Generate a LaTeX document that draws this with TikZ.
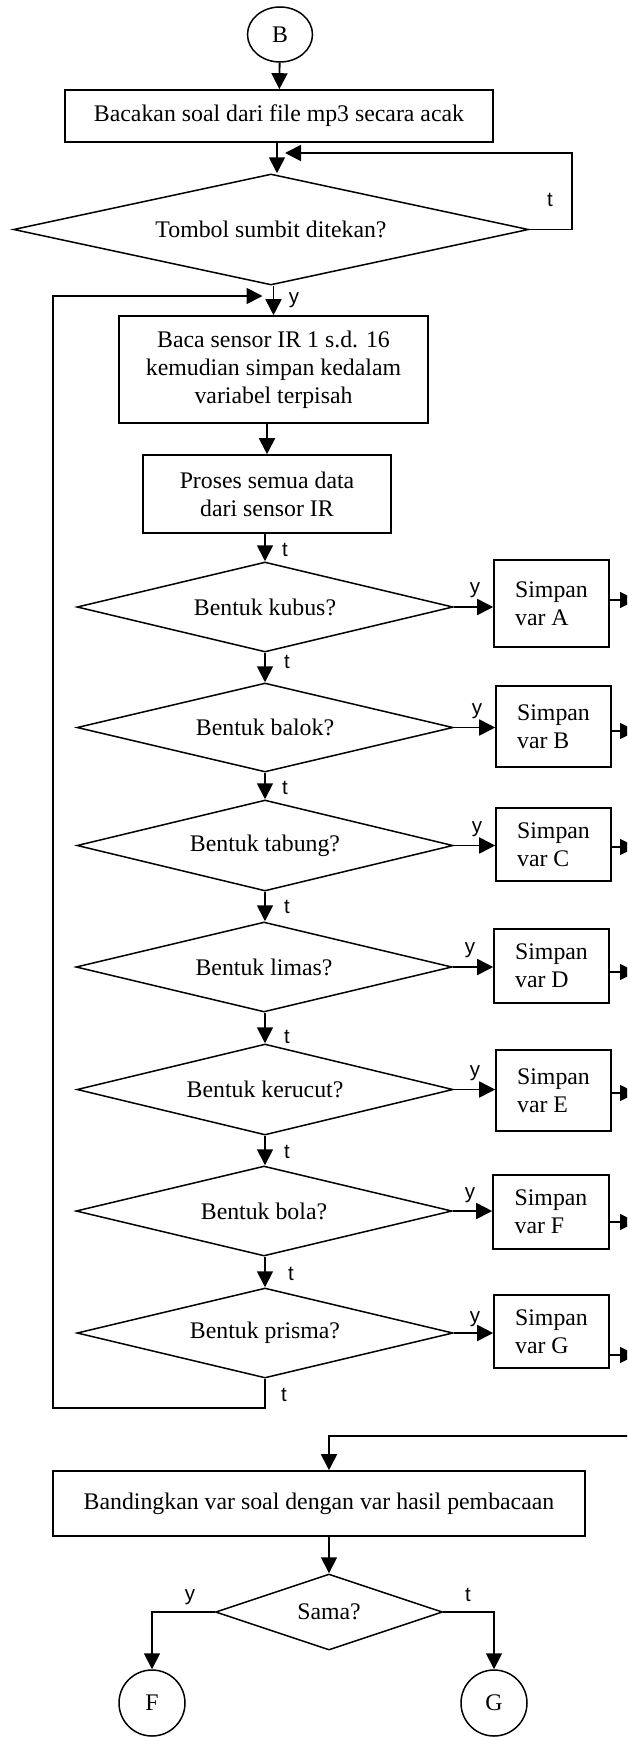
\documentclass[tikz,border=0pt]{standalone}
\usepackage{fontspec}
\setmainfont{Liberation Serif}
\setsansfont{Liberation Sans}
\usetikzlibrary{shapes.geometric,arrows.meta,calc}
\tikzset{
  txt/.style={font=\fontsize{23.8pt}{28pt}\selectfont},
  procbox/.style={draw, line width=1.6pt, rectangle, inner sep=0pt, align=center, txt},
  savebox/.style={procbox, align=left, minimum width=115pt},
  decision/.style={draw, line width=1.5pt, diamond, inner sep=0pt, txt},
  terminal/.style={draw, line width=1.5pt, ellipse, inner sep=0pt, txt},
  flow/.style={line width=1.8pt, -{Triangle[length=16pt,width=16pt]}},
  lbl/.style={font=\sffamily\fontsize{20.5pt}{24pt}\selectfont, inner sep=0pt},
}
\begin{document}
\begin{tikzpicture}[x=1pt,y=-1pt]
\useasboundingbox (0,0) rectangle (627,1737);
\clip (0,0) rectangle (627,1737);

% ---- start and question playback ----
\node[terminal, minimum width=65pt, minimum height=55pt] (B) at (280,34.5) {B};
\node[procbox, minimum width=428pt, minimum height=52pt] (read) at (279,116)
  {Bacakan soal dari file mp3 secara acak};
\node[decision, aspect=4.64, minimum width=515pt, minimum height=111pt] (tombol) at (271,229.5)
  {Tombol sumbit ditekan?};

% ---- sensor reading ----
\node[procbox, minimum width=309pt, minimum height=107pt] (sensor) at (273.5,369.5)
  {Baca sensor IR 1 s.d. 16\\kemudian simpan kedalam\\variabel terpisah};
\node[procbox, minimum width=248pt, minimum height=78pt] (proc) at (267,494)
  {Proses semua data\\dari sensor IR};

% ---- shape decisions ----
\node[decision, aspect=4.18, minimum width=376pt, minimum height=90pt] (kubus)  at (265,607)    {Bentuk kubus?};
\node[decision, aspect=4.18, minimum width=376pt, minimum height=89pt] (balok)  at (265,727.5)  {Bentuk balok?};
\node[decision, aspect=4.18, minimum width=376pt, minimum height=91pt] (tabung) at (265,845.5)  {Bentuk tabung?};
\node[decision, aspect=4.18, minimum width=376pt, minimum height=90pt] (limas)  at (264,967)    {Bentuk limas?};
\node[decision, aspect=4.18, minimum width=376pt, minimum height=91pt] (kerucut) at (265,1089.5){Bentuk kerucut?};
\node[decision, aspect=4.18, minimum width=376pt, minimum height=90pt] (bola)   at (264,1211)   {Bentuk bola?};
\node[decision, aspect=4.18, minimum width=376pt, minimum height=90pt] (prisma) at (265,1333)   {Bentuk prisma?};

% ---- store boxes ----
\node[savebox, minimum height=87pt] (sA) at (551.5,603.5)  {Simpan\\var A};
\node[savebox, minimum height=81pt] (sB) at (553.5,726.5)  {Simpan\\var B};
\node[savebox, minimum height=73pt] (sC) at (553.5,844.5)  {Simpan\\var C};
\node[savebox, minimum height=74pt] (sD) at (551.5,966)    {Simpan\\var D};
\node[savebox, minimum height=81pt] (sE) at (553.5,1090.5) {Simpan\\var E};
\node[savebox, minimum height=74pt, minimum width=116pt] (sF) at (551,1212) {Simpan\\var F};
\node[savebox, minimum height=73pt] (sG) at (551.5,1331.5) {Simpan\\var G};

% ---- comparison ----
\node[procbox, minimum width=532pt, minimum height=65pt] (cmp) at (319,1503.5)
  {Bandingkan var soal dengan var hasil pembacaan};
\node[decision, aspect=3, minimum width=227pt, minimum height=76pt] (sama) at (329,1612) {Sama?};
\node[terminal, minimum width=66pt, minimum height=66pt] (F) at (152,1703) {F};
\node[terminal, minimum width=66pt, minimum height=66pt] (G) at (494,1703) {G};

% ---- helper points ----
\coordinate (retT) at (572,153);
\coordinate (lpB) at (53,1408);
\coordinate (lpT) at (53,296);
\coordinate (oA) at (636,600);
\coordinate (oB) at (636,731);
\coordinate (oC) at (636,847);
\coordinate (oD) at (636,972);
\coordinate (oE) at (636,1093);
\coordinate (oF) at (636,1222);
\coordinate (oG) at (636,1355);
\coordinate (inR) at (640,1436);

% ---- connectors ----
\draw[flow] (B) -- (read);
\draw[flow] ([xshift=-2pt]read.south) -- ([xshift=-2pt]read.south |- tombol.north);
\draw[flow] (tombol.east) -| (retT) -- ([xshift=6pt]read.south |- retT);
\draw[flow] (sensor.north |- tombol.south) -- (sensor.north);
\draw[flow] (proc.north |- sensor.south) -- (proc.north);
\draw[flow] (kubus.north |- proc.south) -- (kubus.north);
\draw[flow] (kubus.south) -- (balok.north);
\draw[flow] (balok.south) -- (tabung.north);
\draw[flow] (tabung.south) -- (limas.north -| tabung.south);
\draw[flow] (limas.south -| tabung.south) -- (kerucut.north);
\draw[flow] (kerucut.south) -- (bola.north -| kerucut.south);
\draw[flow] (bola.south -| kerucut.south) -- (prisma.north);
\draw[flow] (prisma.south) -- (prisma.south |- lpB) -- (lpB) -- (lpT)
  -- ([xshift=-11pt]sensor.north |- lpT);

\draw[flow] (kubus.east)   -- (sA.west |- kubus.east);
\draw[flow] (balok.east)   -- (sB.west |- balok.east);
\draw[flow] (tabung.east)  -- (sC.west |- tabung.east);
\draw[flow] (limas.east)   -- (sD.west |- limas.east);
\draw[flow] (kerucut.east) -- (sE.west |- kerucut.east);
\draw[flow] (bola.east)    -- (sF.west |- bola.east);
\draw[flow] (prisma.east)  -- (sG.west |- prisma.east);

\draw[flow] (sA.east |- oA) -- (oA);
\draw[flow] (sB.east |- oB) -- (oB);
\draw[flow] (sC.east |- oC) -- (oC);
\draw[flow] (sD.east |- oD) -- (oD);
\draw[flow] (sE.east |- oE) -- (oE);
\draw[flow] (sF.east |- oF) -- (oF);
\draw[flow] (sG.east |- oG) -- (oG);

\draw[flow] (inR) -| (sama.north |- cmp.north);
\draw[flow] (sama.north |- cmp.south) -- (sama.north);
\draw[flow] (sama.west) -| (F.north);
\draw[flow] (sama.east) -| (G.north);

% ---- branch labels ----
\node[lbl] (l0) at (550,200) {t};
\node[lbl] (l1) at (294,300) {y};
\node[lbl] (l2) at (285,550) {t};
\node[lbl] (l3) at (287,662) {t};
\node[lbl] (l4) at (285,788) {t};
\node[lbl] (l5) at (287,907) {t};
\node[lbl] (l6) at (287,1037) {t};
\node[lbl] (l7) at (287,1152) {t};
\node[lbl] (l8) at (291,1274) {t};
\node[lbl] (l9) at (284,1395) {t};
\node[lbl] (yA) at (475,590) {y};
\node[lbl] (yB) at (477,711) {y};
\node[lbl] (yC) at (477,829) {y};
\node[lbl] (yD) at (470,950) {y};
\node[lbl] (yE) at (475,1073) {y};
\node[lbl] (yF) at (470,1195) {y};
\node[lbl] (yG) at (475,1319) {y};
\node[lbl] (ys) at (190,1597) {y};
\node[lbl] (ts) at (468,1595) {t};
\end{tikzpicture}
\end{document}
